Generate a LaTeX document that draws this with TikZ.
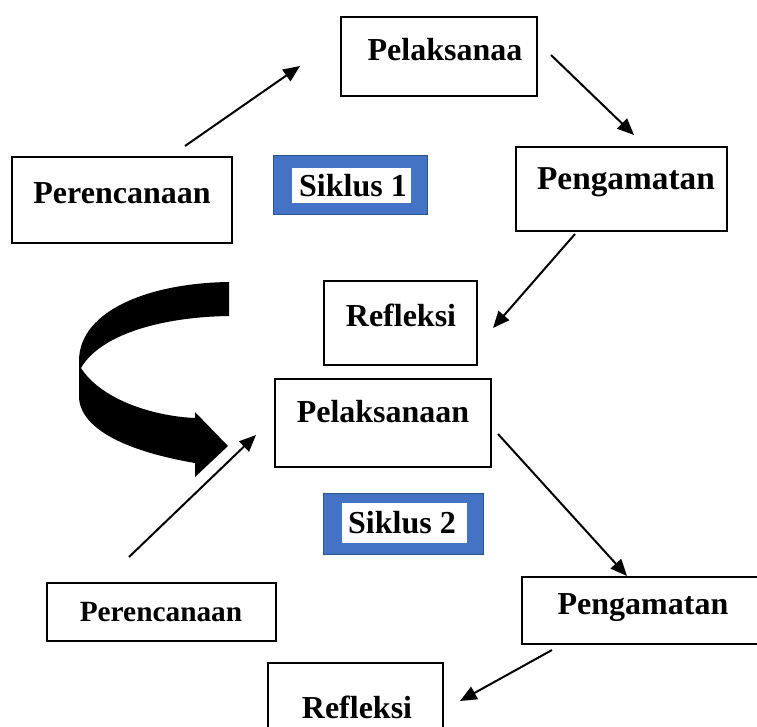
\documentclass[tikz,border=0pt]{standalone}
\usepackage{fontspec}
\setmainfont{Liberation Serif}
\usetikzlibrary{arrows.meta,calc}
\definecolor{siklusblue}{HTML}{4472C4}
\definecolor{siklusedge}{HTML}{2F528F}
\tikzset{every picture/.style={line width=0.75pt}}
\tikzset{
  kotak/.style={draw, line width=1.5pt, inner sep=0pt},
  teks/.style={font=\fontsize{24}{28}\selectfont\bfseries, inner sep=0pt},
  siklus/.style={draw=siklusedge, fill=siklusblue, line width=0.75pt, inner sep=0pt},
  putih/.style={fill=white, inner sep=0pt},
  panah/.style={line width=1.5pt, -{Triangle[length=12.5pt,width=10.5pt]}}
}
\begin{document}
\begin{tikzpicture}[x=0.75pt,y=0.75pt,yscale=-1,xscale=1]
\useasboundingbox (0,0) rectangle (757,726);
% Siklus 1
\node [kotak, minimum width=147pt, minimum height=59.25pt] (pel1) at (439,56.5) {};
\node [kotak, minimum width=165pt, minimum height=64.5pt] (ren1) at (122,200) {};
\node [kotak, minimum width=158.25pt, minimum height=63pt] (amt1) at (621.5,189) {};
\node [kotak, minimum width=114.75pt, minimum height=63pt] (ref1) at (400.5,323) {};
\node [siklus, minimum width=115.5pt, minimum height=44.25pt] (sik1) at (350,184.5) {};
\node [putih, minimum width=89.25pt, minimum height=26.25pt] (sik1w) at (351.5,185.5) {};
% Siklus 2
\node [kotak, minimum width=162pt, minimum height=66pt] (pel2) at (383,423) {};
\node [kotak, minimum width=171.75pt, minimum height=43.5pt] (ren2) at (161.5,612) {};
\node [kotak, minimum width=187.5pt, minimum height=50.25pt] (amt2) at (647,610.5) {};
\node [kotak, minimum width=131.25pt, minimum height=61.5pt] (ref2) at (355.5,704) {};
\node [siklus, minimum width=120pt, minimum height=45.75pt] (sik2) at (403,523.5) {};
\node [putih, minimum width=93.75pt, minimum height=30pt] (sik2w) at (404.5,523) {};
% Text Node
\node [teks] (pel1t) at (445,50) {Pelaksanaa};
\node [teks] (ren1t) at (122,193) {Perencanaan};
\node [teks, font=\fontsize{25}{29}\selectfont\bfseries] (amt1t) at (626,182) {Pengamatan};
\node [teks] (ref1t) at (401,315) {Refleksi};
\node [teks] (sik1t) at (353,186) {Siklus 1};
\node [teks] (pel2t) at (383,412) {Pelaksanaan};
\node [teks, font=\fontsize{22}{26}\selectfont\bfseries] (ren2t) at (161,612) {Perencanaan};
\node [teks] (amt2t) at (643,608) {Pengamatan};
\node [teks] (ref2t) at (357,707) {Refleksi};
\node [teks] (sik2t) at (402,523) {Siklus 2};
% Straight Lines
\draw [panah] ($(ren1.north)+(63,-10)$) -- ($(pel1.west)+(-40,9.5)$);
\draw [panah] ($(pel1.east)+(13,-1.5)$) -- ($(amt1.north)+(12.5,-11)$);
\draw [panah] ($(amt1.south)+(-46.5,2)$) -- ($(ref1.east)+(15,5)$);
\draw [panah] ($(ren2.north)+(-32.5,-25)$) -- ($(pel2.west)+(-18,12)$);
\draw [panah] ($(pel2.east)+(6,11)$) -- ($(amt2.north west)+(106,0)$);
\draw [panah] ($(amt2.south west)+(31,5)$) -- ($(ref2.east)+(16,-3)$);
%Shape: Curved Arrow
\fill (229,282) -- (229,316) .. controls (160,317) and (100,335) .. (81,368) .. controls (100,398) and (150,416) .. (195,418) -- (195,412) -- (228,446) -- (195,477) -- (195,463) .. controls (130,452) and (80,430) .. (79,397) -- (79,360) .. controls (80,310) and (150,283) .. (229,282) -- cycle ;
\end{tikzpicture}
\end{document}
